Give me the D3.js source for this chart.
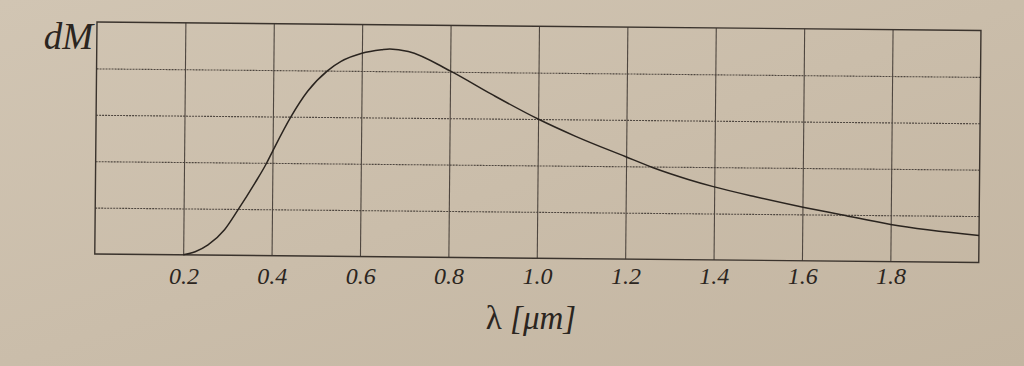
<!DOCTYPE html>
<html>
<head>
<meta charset="utf-8">
<script src="https://cdn.jsdelivr.net/npm/d3@7"></script>
<style>
  html, body { margin: 0; padding: 0; background: #cbbfad; }
  svg { display: block; }
</style>
</head>
<body>
<div id="chart"></div>
<script>
// Size of the page
var w = 1024,
    h = 366;

// Wavelength (um) of the points
var lambda = [0.2, 0.227, 0.256, 0.293, 0.323, 0.36, 0.386, 0.4, 0.441, 0.478,
              0.523, 0.553, 0.6, 0.644, 0.663, 0.705, 0.8, 0.895, 1.0, 1.084,
              1.198, 1.26, 1.341, 1.398, 1.493, 1.604, 1.688, 1.8, 2.0];

// dM (one grid row = 1)
var dM = [0, 0.07, 0.22, 0.55, 0.98, 1.55, 1.98, 2.25, 3.0, 3.55,
          4.0, 4.2, 4.38, 4.46, 4.48, 4.43, 4.02, 3.52, 3.0, 2.64,
          2.21, 1.98, 1.73, 1.58, 1.37, 1.15, 1.0, 0.8, 0.58];

// Vertical grid lines and their labels
var xTicks = [0.2, 0.4, 0.6, 0.8, 1.0, 1.2, 1.4, 1.6, 1.8];
var xLabels = ["0.2", "0.4", "0.6", "0.8", "1.0", "1.2", "1.4", "1.6", "1.8"];

// Horizontal grid lines
var yTicks = [1, 2, 3, 4];

// Plot box, a little rotated like the photographed page
var boxX = 97, boxY = 22,
    pw = 884, ph = 232;

var svg = d3.select("#chart")
    .append("svg")
    .attr("width", w)
    .attr("height", h);

var defs = svg.append("defs");
var bg = defs.append("linearGradient")
    .attr("id", "paper")
    .attr("x1", "0%").attr("y1", "0%")
    .attr("x2", "100%").attr("y2", "100%");
bg.append("stop").attr("offset", "0%").attr("stop-color", "#d1c5b3");
bg.append("stop").attr("offset", "100%").attr("stop-color", "#c3b5a1");

svg.append("rect")
    .attr("width", w)
    .attr("height", h)
    .style("fill", "url(#paper)");

var x = d3.scaleLinear().domain([0, 2]).range([0, pw]);
var y = d3.scaleLinear().domain([0, 5]).range([ph, 0]);

var g = svg.append("g")
    .attr("transform", "translate(" + boxX + "," + boxY + ") rotate(0.55)");

// vertical grid
g.append("g")
    .attr("class", "vgrid")
    .attr("transform", "translate(0," + ph + ")")
    .call(d3.axisBottom(x).tickValues(xTicks).tickSize(-ph).tickFormat(""))
    .call(function (s) {
        s.select(".domain").remove();
        s.selectAll("line").style("stroke", "#4e463f").style("stroke-width", 1.1);
    });

// horizontal grid, dotted
g.append("g")
    .attr("class", "hgrid")
    .call(d3.axisLeft(y).tickValues(yTicks).tickSize(-pw).tickFormat(""))
    .call(function (s) {
        s.select(".domain").remove();
        s.selectAll("line")
            .style("stroke", "#4e463f")
            .style("stroke-width", 1.1)
            .style("stroke-dasharray", "2,1");
    });

// box
g.append("rect")
    .attr("width", pw)
    .attr("height", ph)
    .style("fill", "none")
    .style("stroke", "#3a332d")
    .style("stroke-width", 1.4);

// the curve
var line = d3.line()
    .x(function (d, i) { return x(lambda[i]); })
    .y(function (d) { return y(d); })
    .curve(d3.curveMonotoneX);

g.append("path")
    .datum(dM)
    .attr("d", line)
    .style("fill", "none")
    .style("stroke", "#2a241f")
    .style("stroke-width", 1.5);

// tick labels under the box (the printed row stays nearly level)
svg.append("g")
    .attr("transform", "translate(" + (boxX - 2) + ",256)")
    .call(d3.axisBottom(x).tickValues(xTicks).tickSize(0).tickPadding(11)
        .tickFormat(function (d, i) { return xLabels[i]; }))
    .call(function (s) {
        s.select(".domain").remove();
        s.selectAll("text")
            .style("font-family", "'Liberation Serif', serif")
            .style("font-style", "italic")
            .style("font-size", "24px")
            .style("fill", "#2b2520");
    });

// axis names
svg.append("text")
    .attr("x", 93)
    .attr("y", 49)
    .attr("text-anchor", "end")
    .style("font-family", "'Liberation Serif', serif")
    .style("font-style", "italic")
    .style("font-size", "37px")
    .style("fill", "#2b2520")
    .text("dM");

var title = svg.append("text")
    .attr("x", 531)
    .attr("y", 329)
    .attr("text-anchor", "middle")
    .style("font-family", "'Liberation Serif', serif")
    .style("font-size", "33px")
    .style("fill", "#2b2520");
title.append("tspan").text("λ ");
title.append("tspan").style("font-style", "italic").text("[μm]");
</script>
</body>
</html>
